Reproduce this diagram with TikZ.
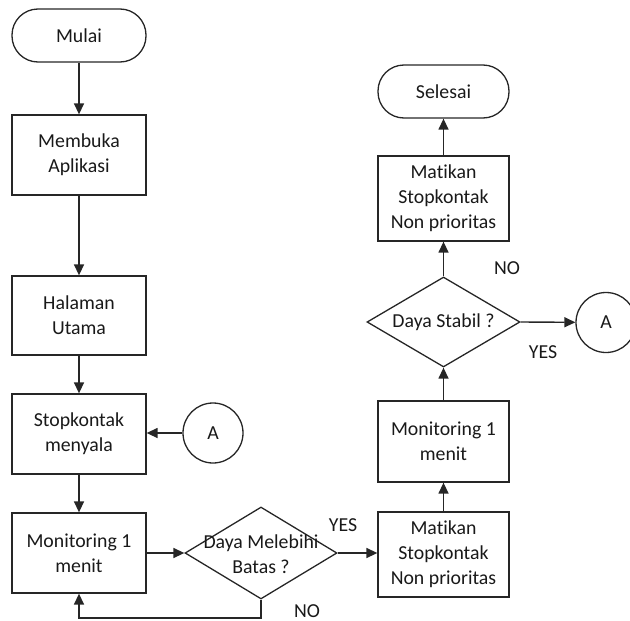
\documentclass[tikz,border=0pt]{standalone}
\usepackage{fontspec}
\setmainfont{Carlito}[Ligatures={NoCommon,NoRequired,NoContextual}]
\usetikzlibrary{arrows.meta,shapes.geometric}
\tikzset{
  every node/.style={font=\fontsize{19.8}{25}\selectfont, text=black!90},
  conn/.style={draw=black!85, line width=1.4pt, -{Triangle[length=11pt,width=10pt]}},
  term/.style={draw=black!85, line width=1.3pt, rounded corners=26pt, minimum height=53pt, inner sep=0pt, align=center},
  proc/.style={draw=black!85, line width=1.3pt, inner sep=0pt, align=center},
  dec/.style={draw=black!85, line width=1.3pt, diamond, inner sep=0pt},
  conncirc/.style={draw=black!85, line width=1.3pt, circle, minimum size=60pt, inner sep=0pt},
  txt/.style={inner sep=0pt, align=center},
  lbl/.style={inner sep=0pt}
}
\begin{document}
\begin{tikzpicture}[x=1pt,y=-1pt]
\useasboundingbox (0,0) rectangle (630,621);
% left column
\node[term, minimum width=134pt] (mulai) at (79,35.5) {Mulai};
\node[proc, minimum width=134pt, minimum height=80pt] (buka) at (79,155) {Membuka\\Aplikasi};
\node[proc, minimum width=134pt, minimum height=79pt] (utama) at (79,315.5) {Halaman\\Utama};
\node[proc, minimum width=134pt, minimum height=80pt] (nyala) at (79,434) {Stopkontak\\menyala};
\node[conncirc] (a1) at (213,433) {A};
\node[proc, minimum width=134pt, minimum height=80pt] (mon1) at (79,553) {Monitoring 1\\menit};
\node[dec, minimum width=152pt, minimum height=92pt] (d1) at (261,553) {};
\node[txt] (d1t) at (261,554) {Daya Melebihi\\Batas ?};
% right column
\node[proc, minimum width=131pt, minimum height=85pt] (mat1) at (443.5,554.5) {Matikan\\Stopkontak\\Non prioritas};
\node[proc, minimum width=131pt, minimum height=81pt] (mon2) at (443.5,441.5) {Monitoring 1\\menit};
\node[dec, minimum width=153pt, minimum height=90pt] (d2) at (443.5,322) {};
\node[txt] (d2t) at (443.5,322) {Daya Stabil ?};
\node[conncirc] (a2) at (606,322.5) {A};
\node[proc, minimum width=131pt, minimum height=85pt] (mat2) at (443.5,198.5) {Matikan\\Stopkontak\\Non prioritas};
\node[term, minimum width=131pt] (selesai) at (443.5,91.5) {Selesai};
% connector loop corners
\coordinate (c1) at (261,618);
\coordinate (c2) at (79,618);
% connectors
\draw[conn] (mulai) -- (buka);
\draw[conn] (buka) -- (utama);
\draw[conn] (utama) -- (nyala);
\draw[conn] (a1) -- (nyala.east |- a1);
\draw[conn] (nyala) -- (mon1);
\draw[conn] (mon1.east |- d1.west) -- (d1.west);
\draw[conn] (d1.south) -- (c1) -- (c2) -- (mon1.south);
\draw[conn] (d1.east) -- (mat1.west |- d1.east);
\draw[conn] (mat1) -- (mon2);
\draw[conn] (mon2) -- (d2.south);
\draw[conn] (d2.east) -- (a2);
\draw[conn] (d2.north) -- (mat2);
\draw[conn] (mat2) -- (selesai);
% labels
\node[lbl] (yes1) at (343,525) {YES};
\node[lbl] (no1) at (307,611) {NO};
\node[lbl] (no2) at (507,268) {NO};
\node[lbl] (yes2) at (543,352) {YES};
\end{tikzpicture}
\end{document}
